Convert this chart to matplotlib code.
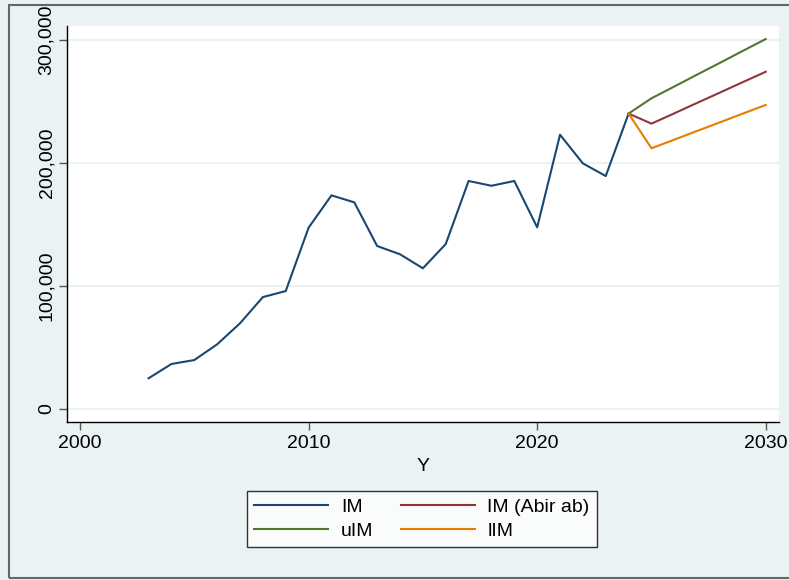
import matplotlib
matplotlib.use("Agg")
import matplotlib.pyplot as plt
from matplotlib.patches import Rectangle
from matplotlib.ticker import FuncFormatter

plt.rcParams['font.family'] = ['Liberation Sans', 'DejaVu Sans']

# Data
years_hist = [2003, 2004, 2005, 2006, 2007, 2008, 2009, 2010, 2011, 2012, 2013,
              2014, 2015, 2016, 2017, 2018, 2019, 2020, 2021, 2022, 2023, 2024]
im = [25000, 36600, 39800, 52600, 69700, 91000, 95900, 147400, 173700, 168000, 132500,
      125800, 114400, 134100, 185400, 181500, 185400, 147700, 223000, 199700, 189400, 240200]

years_fc = [2024, 2025, 2026, 2027, 2028, 2029, 2030]
im_abir = [240200, 232000, 240400, 248900, 257300, 265800, 274200]
uim = [240200, 252600, 262200, 271900, 281500, 291200, 300800]
lim = [240200, 212000, 219000, 226100, 233100, 240200, 247200]

xticks = [2000, 2010, 2020, 2030]
yticks = [0, 100000, 200000, 300000]

FS = 14
bg = '#EAF2F3'
fig = plt.figure(figsize=(7.89, 5.80), dpi=100, facecolor=bg)
ax = fig.add_axes([67/789, 1-422/580, (779-67)/789, (422-26)/580])
ax.set_facecolor('white')

ax.plot(years_hist, im, color='#1a476f', lw=1.5, label='IM')
ax.plot(years_fc, im_abir, color='#90353b', lw=1.5, label='IM (Abir ab)')
ax.plot(years_fc, uim, color='#55752f', lw=1.5, label='uIM')
ax.plot(years_fc, lim, color='#e37e00', lw=1.5, label='lIM')

ax.set_xlim(1999.43, 2030.58)
ax.set_ylim(-10570, 311400)
ax.set_xticks(xticks)
ax.set_yticks(yticks)
ax.yaxis.set_major_formatter(FuncFormatter(lambda v, p: f"{int(v):,}"))
ax.grid(axis='y', color='#EAF2F3', lw=1.5)
ax.set_axisbelow(True)
for s in ['top', 'right']:
    ax.spines[s].set_visible(False)
for s in ['left', 'bottom']:
    ax.spines[s].set_color('black')
    ax.spines[s].set_linewidth(1.0)
ax.tick_params(axis='both', direction='out', length=6, width=1, color='#555555',
               labelsize=FS, labelcolor='black')
ax.tick_params(axis='y', pad=2.5)
ax.tick_params(axis='x', pad=3.5)
for lbl in ax.get_yticklabels():
    lbl.set_rotation(90)
    lbl.set_va('center')
ax.set_xlabel('Y', fontsize=FS, labelpad=4)

handles, labels = ax.get_legend_handles_labels()
order = [0, 2, 1, 3]
leg = fig.legend([handles[i] for i in order], [labels[i] for i in order],
                 ncol=2, loc='center', bbox_to_anchor=(422/789, 1-519/580),
                 fontsize=FS, frameon=True, fancybox=False, edgecolor='black',
                 handlelength=3.8, handletextpad=0.65, columnspacing=1.4,
                 borderpad=0.4, labelspacing=0.3)
leg.get_frame().set_linewidth(1.0)
leg.get_frame().set_facecolor('white')

fig.patches.append(Rectangle((8.5/789, 2/580), 1.0, (575-2)/580, transform=fig.transFigure,
                             fill=False, edgecolor='#666666', lw=1.5))

fig.savefig('out.png', dpi=100, facecolor=bg)
